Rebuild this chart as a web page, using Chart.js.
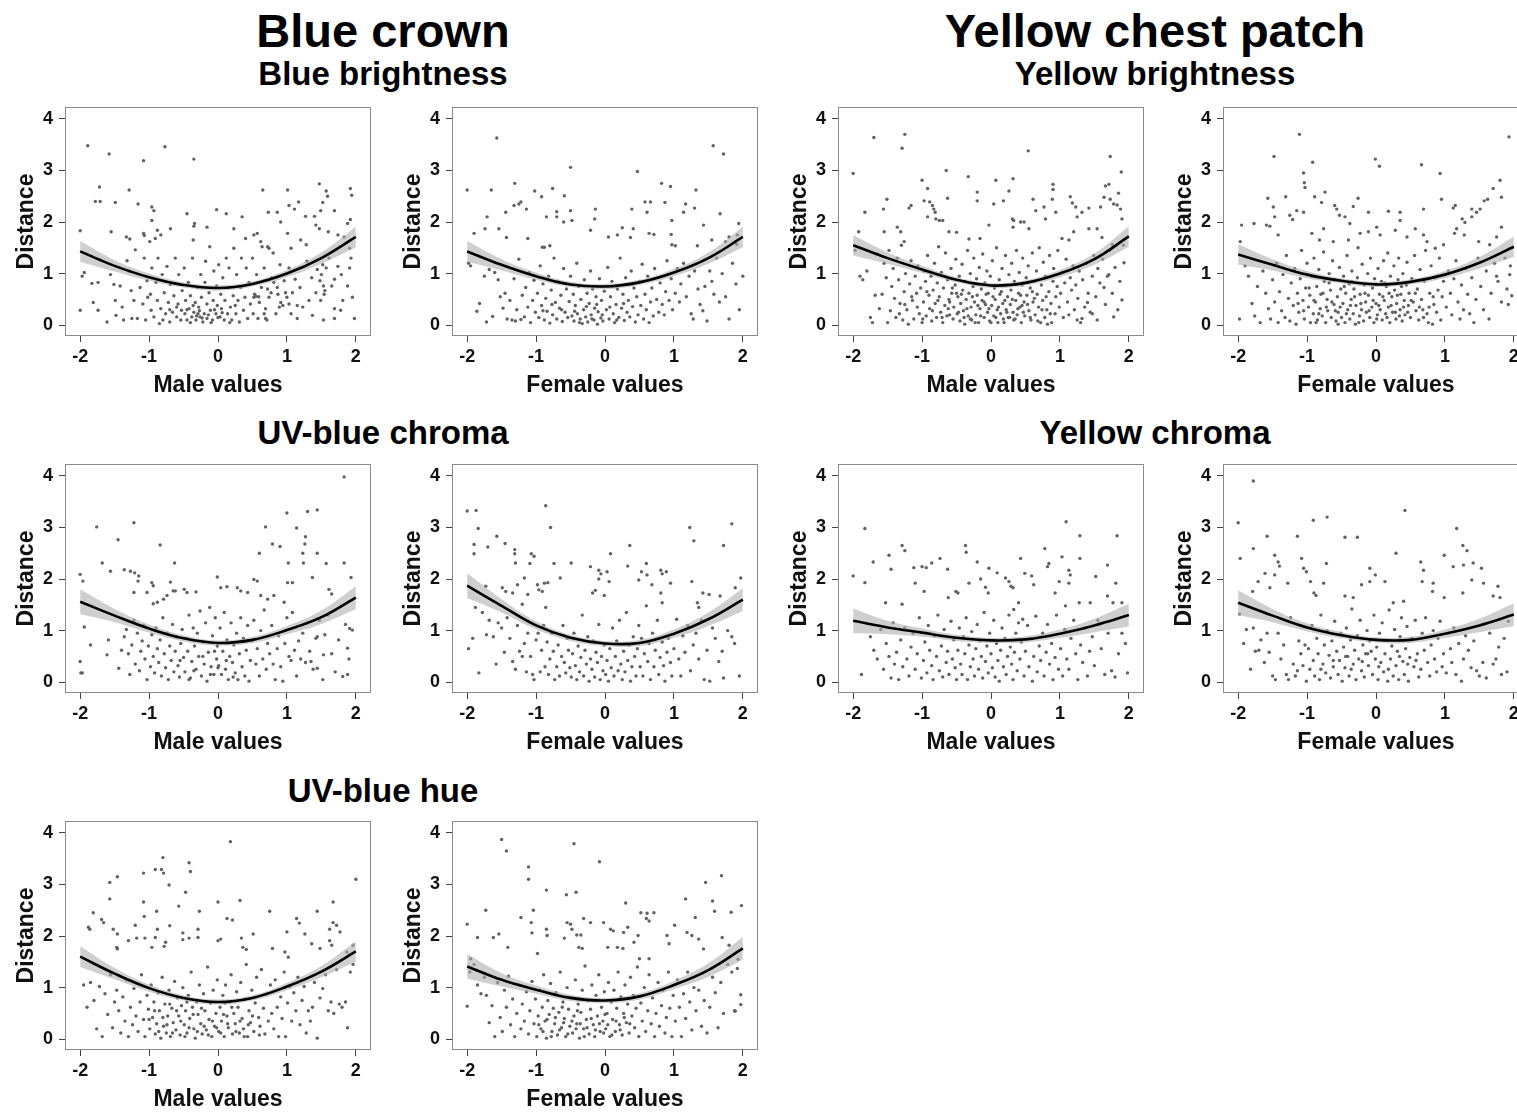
<!DOCTYPE html>
<html>
<head>
<meta charset="utf-8">
<script src="https://cdn.jsdelivr.net/npm/chart.js@4.4.1/dist/chart.umd.min.js"></script>
<style>
  html, body { margin:0; padding:0; background:#fff; }
  body { width:1517px; height:1115px; position:relative; overflow:hidden; font-family:"Liberation Sans", Arial, sans-serif; }
  .t { position:absolute; width:700px; text-align:center; font-weight:bold; color:#000; white-space:nowrap; }
  canvas { position:absolute; }
</style>
</head>
<body>
<script>
// ---------- axis ticks ----------
const xTicks = [-2, -1, 0, 1, 2];
const yTicks = [0, 1, 2, 3, 4];
const fitX = [-2, -1.5, -1, -0.5, 0, 0.5, 1, 1.5, 2];

// ---------- fitted curves ----------
const blueBrightMaleFit   = [1.43, 1.15, 0.93, 0.78, 0.72, 0.80, 1.00, 1.30, 1.71];
const blueBrightFemaleFit = [1.43, 1.17, 0.95, 0.79, 0.75, 0.83, 1.02, 1.30, 1.71];
const uvChromaMaleFit     = [1.56, 1.29, 1.04, 0.85, 0.76, 0.82, 1.01, 1.26, 1.64];
const uvChromaFemaleFit   = [1.87, 1.48, 1.10, 0.86, 0.75, 0.76, 0.94, 1.22, 1.60];
const uvHueMaleFit        = [1.60, 1.27, 0.99, 0.80, 0.72, 0.80, 1.02, 1.31, 1.70];
const uvHueFemaleFit      = [1.41, 1.15, 0.96, 0.80, 0.75, 0.83, 1.05, 1.34, 1.76];
const yellowBrightMaleFit   = [1.55, 1.30, 1.08, 0.88, 0.77, 0.82, 1.00, 1.28, 1.72];
const yellowBrightFemaleFit = [1.37, 1.17, 0.98, 0.86, 0.79, 0.84, 0.98, 1.21, 1.52];
const yellowChromaMaleFit   = [1.19, 1.06, 0.96, 0.86, 0.81, 0.83, 0.94, 1.10, 1.30];
const yellowChromaFemaleFit = [1.54, 1.29, 1.06, 0.91, 0.82, 0.82, 0.94, 1.10, 1.31];

// confidence band half-widths
const bandNarrow = [0.20, 0.11, 0.07, 0.05, 0.05, 0.05, 0.07, 0.11, 0.20];
const bandWide   = [0.24, 0.13, 0.08, 0.06, 0.05, 0.06, 0.08, 0.13, 0.22];

// ---------- scatter points ----------
const blueBrightMale = [
[-1.89,3.48],[-1.58,3.32],[-1.08,3.19],[-0.77,3.46],[-0.35,3.22],[-2.0,1.83],[-1.72,2.68],[-1.78,2.40],[-1.71,2.40],[-1.29,2.62],[-1.49,2.38],[-1.16,2.35],[-0.96,2.29],[-0.93,2.22],[-0.96,2.03],[-1.55,1.81],[-1.33,1.71],[-1.28,1.67],[-1.08,1.78],[-1.07,1.74],[-0.88,1.84],[-0.91,1.68],[-0.83,1.75],[-0.99,1.62],[-0.69,1.87],[-0.34,1.97],[-0.35,1.92],[-0.45,2.16],[-0.02,2.24],[0.12,2.16],[0.65,2.62],[1.01,2.62],[1.03,2.32],[1.11,2.25],[1.17,2.39],[1.47,2.74],[1.57,2.60],[1.59,2.50],[1.92,2.65],[1.94,2.52],[1.69,2.22],[1.49,2.22],[1.52,2.38],[1.27,2.11],[1.40,2.11],[1.42,1.94],[1.47,1.87],[1.88,1.97],[1.92,2.05],[0.73,2.19],[0.86,2.19],[0.35,2.10],[0.23,1.87],[-0.16,1.90],[0.40,1.68],[0.52,1.75],[0.62,1.62],[0.64,1.52],[0.72,1.52],[0.74,1.49],[0.57,1.78],[0.91,2.0],[1.01,1.78],[1.06,1.49],[1.2,1.65],[1.28,1.56],[1.60,1.81],[1.74,1.75],[1.83,1.71],[1.93,1.30],[1.91,1.49],[1.74,1.14],[1.52,1.17],[1.57,1.11],[1.5,0.98],[1.48,0.86],[1.53,0.76],[1.55,0.67],[1.54,0.60],[1.69,0.89],[1.81,0.48],[1.78,0.29],[1.98,0.13],[1.53,0.10],[1.69,0.32],[1.69,0.13],[1.49,0.48],[1.37,0.19],[1.15,0.38],[1.15,0.13],[0.98,0.63],[1.0,0.54],[1.03,0.41],[1.06,0.22],[0.91,0.44],[0.89,0.35],[0.86,0.73],[0.81,0.83],[0.72,0.70],[0.77,0.63],[0.67,0.22],[0.69,0.13],[0.52,0.54],[0.55,0.56],[0.59,0.55],
[-1.97,0.95],[-1.94,1.02],[-2.0,0.29],[-1.83,0.81],[-1.81,0.44],[-1.74,0.83],[-1.74,0.29],[-1.61,0.06],[-1.56,0.98],[-1.51,0.79],[-1.49,0.48],[-1.48,0.19],[-1.71,1.27],
[-1.42,0.76],[-1.39,0.35],[-1.37,0.10],[-1.32,1.25],[-1.29,1.05],[-1.26,0.67],[-1.25,0.13],[-1.22,0.48],[-1.20,1.46],[-1.17,0.13],[-1.13,0.73],[-1.09,0.41],[-1.07,1.30],[-1.05,0.10],[-1.03,0.86],[-1.02,0.54],
[-0.98,0.60],[-0.97,0.29],[-0.96,1.11],[-0.93,0.16],[-0.90,0.83],[-0.88,0.48],[-0.87,1.30],[-0.85,0.03],[-0.83,0.32],[-0.81,0.98],[-0.80,0.10],[-0.78,0.63],[-0.76,0.22],[-0.74,1.14],[-0.72,0.44],[-0.70,0.06],[-0.69,0.79],[-0.66,0.25],[-0.64,0.57],[-0.62,1.30],[-0.60,0.16],[-0.58,0.41],[-0.57,0.98],[-0.54,0.10],[-0.53,0.29],[-0.52,0.67],
[-0.49,1.11],[-0.48,0.22],[-0.47,0.48],[-0.45,0.10],[-0.43,0.83],[-0.42,0.32],[-0.40,0.57],[-0.38,0.16],[-0.37,1.30],[-0.36,1.65],[-0.35,0.25],[-0.33,0.44],[-0.32,0.10],[-0.30,0.73],[-0.29,0.22],[-0.28,0.35],[-0.26,0.16],[-0.25,0.98],[-0.24,0.54],[-0.22,0.06],[-0.20,0.22],[-0.19,0.83],[-0.18,1.24],[-0.16,0.41],[-0.16,0.13],[-0.13,0.63],[-0.12,1.52],[-0.11,0.29],[-0.08,0.10],[-0.07,0.48],[-0.06,1.05],[-0.03,0.22],[-0.02,0.76],[-0.01,0.38],
[0.01,1.17],[0.03,0.16],[0.04,0.60],[0.05,0.32],[0.07,0.92],[0.09,0.10],[0.10,0.48],[0.12,1.30],[0.14,0.22],[0.15,0.73],[0.16,1.11],[0.18,0.35],[0.20,0.10],[0.22,0.57],[0.23,1.49],[0.26,0.22],[0.27,0.98],[0.29,0.48],[0.31,0.06],[0.33,0.73],[0.34,1.30],[0.37,0.29],[0.39,0.54],[0.41,1.11],[0.43,0.13],[0.45,0.83],[0.47,0.41],
[0.50,1.30],[0.51,0.22],[0.53,0.60],[0.56,0.98],[0.58,0.13],[0.60,0.44],[0.63,0.73],[0.67,1.11],[0.69,0.32],[0.71,0.10],[0.74,0.54],[0.78,0.92],[0.80,1.40],[0.84,0.22],[0.87,0.60],[0.90,1.17],[0.94,0.38],[0.96,0.86],
[1.03,1.11],[1.08,0.63],[1.12,0.89],[1.19,0.73],[1.23,0.35],[1.29,1.24],[1.32,0.48],[1.36,0.92],[1.42,0.63],[1.44,1.08],
[1.61,1.30],[1.65,0.76],[1.79,0.98],[1.88,0.76],[1.95,0.54],[1.91,1.11],
[-0.45,0.30],[-0.40,0.05],[-0.31,0.18],[-0.27,0.28],[-0.23,0.14],[-0.14,0.20],[-0.10,0.05],[-0.05,0.30],[0.0,0.15],[-0.60,0.35],[-0.70,0.30],[-0.36,0.38],[0.06,0.24],[0.17,0.05],[0.25,0.38]
];

const blueBrightFemale = [
[-1.57,3.63],[-2.0,2.62],[-1.65,2.62],[-1.31,2.75],[-1.02,2.60],[-0.76,2.65],[-0.92,2.49],[-1.32,2.32],[-1.25,2.35],[-1.22,2.39],[-1.14,2.25],[-1.44,2.19],[-1.71,2.10],[-0.50,3.06],[-0.59,2.51],[-0.50,2.22],[-0.70,2.20],[-0.70,2.10],[-0.48,2.03],[-0.85,2.10],[0.47,2.98],[0.82,2.75],[0.95,2.69],[1.32,2.62],[1.57,3.48],[1.72,3.32],[0.58,2.39],[0.66,2.39],[0.87,2.38],[0.39,2.25],[0.61,2.19],[-0.14,2.25],[1.17,2.35],[1.30,2.27],[1.67,2.16],[1.14,2.19],[1.43,1.94],[1.94,1.97],[0.97,2.03],[0.96,1.76],[-0.21,1.84],[-0.15,2.06],[0.25,1.89],[0.41,1.87],[0.64,1.78],[0.71,1.76],[0.18,1.75],[0.05,1.71],[0.37,1.70],[-1.90,1.78],[-1.74,1.87],[-1.54,1.87],[-1.43,1.70],[-1.12,1.68],[-0.80,1.54],[-0.91,1.51],[-0.88,1.51],[-0.60,2.0],[1.02,1.54],[0.97,1.56],[1.34,1.54],[1.55,1.65],[1.75,1.62],[1.91,1.57],[2.0,0.95],[1.92,1.75],[1.80,1.71],
[-1.98,1.2],[-1.95,1.15],[-1.86,0.27],[-1.82,0.42],[-1.75,0.95],[-1.72,0.06],[-1.68,1.08],[-1.63,0.17],[-1.6,1.02],[-1.55,0.88],[-1.52,0.55],[-1.48,0.33],[-1.45,0.62],[-1.42,0.12],[-1.38,0.48],[-1.35,0.1],[-1.32,0.9],[-1.3,0.08],[-1.28,0.3],[-1.25,1.28],[-1.22,0.11],[-1.2,0.58],[-1.17,0.16],[-1.15,0.73],[-1.12,0.35],[-1.1,1.02],[-1.08,0.05],[-1.05,0.48],[-1.03,0.87],[-1.01,0.25],
[-0.98,0.62],[-0.96,0.15],[-0.94,1.15],[-0.92,0.38],[-0.9,0.8],[-0.88,0.1],[-0.86,0.52],[-0.84,0.27],[-0.82,0.95],[-0.8,0.04],[-0.78,0.68],[-0.76,0.2],[-0.74,1.3],[-0.72,0.44],[-0.7,0.12],[-0.68,0.85],[-0.66,0.33],[-0.64,0.58],[-0.62,0.07],[-0.6,1.1],[-0.58,0.25],[-0.56,0.7],[-0.54,0.15],[-0.52,0.46],[-0.5,0.95],
[-0.48,0.18],[-0.46,0.6],[-0.45,0.08],[-0.43,0.38],[-0.41,1.2],[-0.4,0.22],[-0.38,0.75],[-0.36,0.12],[-0.35,0.5],[-0.33,0.03],[-0.31,0.3],[-0.3,0.88],[-0.28,0.16],[-0.26,0.62],[-0.25,0.06],[-0.23,0.42],[-0.21,1.05],[-0.2,0.2],[-0.18,0.7],[-0.16,0.1],[-0.15,0.33],[-0.13,0.55],[-0.11,0.02],[-0.1,0.26],[-0.08,0.9],[-0.06,0.14],[-0.05,0.48],[-0.03,0.08],[-0.01,0.66],
[0.02,0.3],[0.04,1.12],[0.06,0.12],[0.08,0.55],[0.1,0.85],[0.12,0.22],[0.14,0.05],[0.16,0.4],[0.18,0.7],[0.2,0.15],[0.22,1.3],[0.24,0.33],[0.26,0.6],[0.28,0.09],[0.3,0.92],[0.32,0.25],[0.34,0.48],[0.36,0.16],[0.38,1.05],[0.4,0.36],[0.42,0.72],[0.44,0.06],[0.46,0.55],[0.48,0.2],
[0.5,0.85],[0.52,0.38],[0.54,1.18],[0.56,0.12],[0.58,0.6],[0.6,0.3],[0.62,0.95],[0.64,0.05],[0.66,0.45],[0.68,0.72],[0.7,0.18],[0.72,1.1],[0.75,0.5],[0.78,0.25],[0.8,0.82],[0.83,0.4],[0.86,0.2],[0.88,0.65],[0.9,1.25],[0.93,0.48],[0.96,0.9],[0.98,0.3],
[1.02,0.62],[1.05,1.1],[1.08,0.45],[1.1,0.8],[1.14,1.2],[1.18,0.55],[1.22,0.95],[1.25,0.22],[1.28,0.12],[1.3,1.05],[1.35,0.7],[1.38,0.4],[1.42,0.28],[1.45,0.75],[1.48,0.08],[1.52,1.05],[1.55,0.85],[1.58,0.6],[1.62,1.3],[1.66,0.45],[1.7,1.0],[1.75,0.55],[1.8,0.12],[1.85,1.2],[1.9,0.8],[1.95,0.3],
[-0.63,0.3],[-0.44,0.27],[-0.37,0.05],[-0.27,0.36],[-0.19,0.12],[-0.12,0.4],[-0.04,0.2],[0.07,0.35],[0.17,0.1],[0.27,0.42],[-0.77,0.4],[-0.9,0.28]
];

const yellowBrightMale = [
[-2.0,2.94],[-1.70,3.64],[-1.25,3.70],[-1.29,3.43],[-0.65,3.0],[-0.33,2.88],[0.07,2.81],[0.32,2.84],[0.54,3.38],[1.73,3.27],[1.89,2.97],[-1.92,1.81],[-1.83,2.19],[-1.56,2.25],[-1.51,2.44],[-1.55,1.81],[-1.36,1.90],[-1.31,1.81],[-1.19,2.27],[-1.16,2.32],[-1.26,1.62],[-1.0,2.81],[-0.92,2.65],[-0.97,2.41],[-0.89,2.39],[-0.85,2.32],[-0.83,2.25],[-0.81,2.19],[-0.80,2.06],[-0.75,2.03],[-0.70,2.03],[-0.92,2.10],[-0.63,2.46],[-0.61,1.81],[-0.50,1.80],[-0.32,1.67],[-0.20,2.58],[-0.20,2.41],[-0.16,1.68],[-0.03,1.94],[0.04,2.35],[0.18,2.41],[0.26,2.60],[0.31,2.06],[0.33,2.03],[0.32,1.90],[0.43,2.0],[0.48,2.0],[0.55,1.87],[0.65,2.22],[0.61,2.44],[0.77,2.29],[0.79,2.06],[0.89,2.44],[0.90,2.73],[0.90,2.63],[0.94,2.19],[1.15,2.49],[1.18,2.37],[1.23,2.29],[1.25,2.10],[1.32,2.19],[1.42,2.27],[1.42,1.87],[1.54,1.87],[1.59,2.29],[1.64,2.48],[1.66,2.70],[1.71,2.73],[1.73,2.44],[1.78,2.35],[1.83,2.33],[1.88,2.25],[1.85,2.56],[1.90,2.06],[1.61,1.70],[1.76,1.56],[1.13,1.65],[1.03,1.68],[1.20,1.81],[1.90,0.49],[1.78,0.16],[1.93,1.21],[1.71,0.98],[1.64,0.73],[1.54,0.10],[1.47,0.22],[1.40,0.44],[1.32,0.13],[1.25,0.10],
[-1.97,1.45],[-1.9,0.95],[-1.86,0.88],[-1.8,1.05],[-1.75,0.15],[-1.72,0.05],[-1.68,0.58],[-1.65,1.38],[-1.62,0.32],[-1.58,0.6],[-1.55,1.2],[-1.52,0.92],[-1.5,0.05],
[-1.48,1.45],[-1.46,0.28],[-1.44,0.75],[-1.42,1.1],[-1.4,0.52],[-1.38,0.15],[-1.36,1.3],[-1.34,0.88],[-1.32,0.42],[-1.3,1.55],[-1.28,0.1],[-1.26,0.65],[-1.24,1.0],[-1.22,0.3],[-1.2,0.02],[-1.18,0.8],[-1.16,1.25],[-1.14,0.48],[-1.12,0.12],[-1.1,0.95],[-1.08,0.62],[-1.06,1.15],[-1.04,0.22],[-1.02,0.72],[-1.0,0.05],
[-0.98,0.45],[-0.97,1.05],[-0.95,0.85],[-0.94,0.18],[-0.92,1.35],[-0.9,0.58],[-0.89,0.32],[-0.87,0.95],[-0.86,0.08],[-0.84,0.68],[-0.82,1.2],[-0.81,0.42],[-0.79,0.15],[-0.78,0.82],[-0.76,1.52],[-0.75,0.55],[-0.73,0.25],[-0.72,1.02],[-0.7,0.05],[-0.69,0.72],[-0.67,0.38],[-0.66,1.4],[-0.64,0.18],[-0.63,0.88],[-0.61,0.5],[-0.6,0.2],[-0.58,1.1],[-0.57,0.62],[-0.55,0.12],[-0.54,0.35],[-0.52,0.78],[-0.51,1.28],
[-0.49,0.22],[-0.48,0.55],[-0.46,0.95],[-0.45,0.08],[-0.44,0.42],[-0.42,1.18],[-0.41,0.68],[-0.4,0.28],[-0.38,0.02],[-0.37,0.85],[-0.36,0.5],[-0.34,1.45],[-0.33,0.18],[-0.32,0.62],[-0.3,1.0],[-0.29,0.35],[-0.28,0.1],[-0.26,0.75],[-0.25,1.3],[-0.24,0.45],[-0.22,0.2],[-0.21,0.9],[-0.2,0.58],[-0.18,0.05],[-0.17,1.12],[-0.16,0.32],[-0.14,0.7],[-0.13,0.48],[-0.12,1.38],[-0.1,0.15],[-0.09,0.82],[-0.08,0.4],[-0.06,1.05],[-0.05,0.25],[-0.04,0.62],[-0.02,0.08],[-0.01,0.95],
[0.01,0.38],[0.02,1.25],[0.04,0.18],[0.05,0.72],[0.06,0.5],[0.08,1.5],[0.09,0.3],[0.1,0.05],[0.12,0.88],[0.13,0.6],[0.14,0.22],[0.16,1.1],[0.17,0.42],[0.18,0.12],[0.2,0.78],[0.21,1.35],[0.22,0.3],[0.24,0.55],[0.25,0.15],[0.26,0.98],[0.28,0.4],[0.29,0.68],[0.3,1.2],[0.32,0.25],[0.33,0.1],[0.34,0.85],[0.36,0.48],[0.37,1.45],[0.38,0.2],[0.4,0.62],[0.41,1.02],[0.42,0.35],[0.44,0.05],[0.45,0.78],[0.46,1.3],[0.48,0.45],[0.49,0.18],
[0.51,0.92],[0.52,0.58],[0.54,1.15],[0.55,0.28],[0.57,0.72],[0.58,0.1],[0.6,1.4],[0.61,0.45],[0.63,0.85],[0.64,0.2],[0.66,1.05],[0.67,0.6],[0.69,0.35],[0.7,1.5],[0.72,0.05],[0.73,0.78],[0.75,0.48],[0.76,1.22],[0.78,0.15],[0.79,0.95],[0.81,0.3],[0.82,0.02],[0.84,0.65],[0.85,1.35],[0.87,0.42],[0.88,0.05],[0.9,0.85],[0.91,1.1],[0.93,0.22],[0.94,0.55],[0.96,0.75],[0.97,1.45],[0.99,0.35],
[1.01,0.62],[1.03,1.02],[1.05,0.15],[1.07,0.82],[1.09,1.28],[1.11,0.45],[1.13,0.2],[1.15,0.92],[1.17,0.68],[1.19,1.15],[1.21,0.3],[1.23,0.78],[1.26,0.52],[1.28,1.05],[1.3,0.05],[1.33,0.88],[1.36,0.35],[1.38,1.2],[1.41,0.62],[1.44,0.25],[1.47,0.95],[1.49,1.35],
[1.52,0.55],[1.55,1.1],[1.58,0.82],[1.62,1.28],[1.66,0.4],[1.69,0.95],[1.72,1.45],[1.76,0.62],[1.8,1.12],[1.84,0.3],[1.87,0.85],[1.92,1.55],
[-1.15,0.55],[-1.07,0.35],[-0.99,0.12],[-0.93,0.65],[-0.85,0.28],[-0.77,0.48],[-0.71,0.15],[-0.62,0.32],[-0.56,0.72],[-0.47,0.25],[-0.43,0.6],[-0.39,0.15],[-0.35,0.32],[-0.27,0.55],[-0.23,0.05],[-0.19,0.38],[-0.15,0.18],[-0.07,0.6],[-0.03,0.32],[0.03,0.55],[0.07,0.15],[0.11,0.35],[0.15,0.65],[0.19,0.05],[0.23,0.25],[0.27,0.15],[0.31,0.5],[0.35,0.12],[0.39,0.32],[0.43,0.58],[0.47,0.25],[0.53,0.4],[0.57,0.15],[0.63,0.52],[0.68,0.08],[0.74,0.3],[0.8,0.55],[0.86,0.22],[-1.25,0.4],[-1.33,0.22],[-0.6,0.45],[-0.5,0.62],[-0.3,0.12],[-0.1,0.45],[0.0,0.05],[0.2,0.48],[0.45,0.38],[0.6,0.65]
];

const yellowBrightFemale = [
[-1.11,3.70],[-1.48,3.27],[-0.92,3.16],[-1.05,2.95],[-1.04,2.76],[-1.03,2.67],[-0.01,3.22],[0.05,3.08],[0.66,3.11],[0.93,2.94],[1.93,3.65],[1.80,2.81],[1.70,2.65],[1.82,2.48],[-1.57,2.46],[-1.31,2.49],[-0.89,2.49],[-0.74,2.58],[-0.79,2.38],[-0.26,2.46],[-0.6,2.32],[-0.57,2.25],[-0.33,2.30],[-0.11,2.19],[0.18,2.21],[0.35,2.19],[0.69,2.25],[0.95,2.44],[1.12,2.27],[1.15,2.32],[1.39,2.25],[1.46,2.19],[1.51,2.25],[1.57,2.41],[1.62,2.44],[1.39,2.10],[1.25,2.06],[1.29,1.99],[1.17,1.87],[1.14,1.78],[1.28,1.75],[1.49,1.62],[1.65,1.56],[1.75,1.71],[1.82,1.90],[1.94,0.98],[1.97,0.57],[1.92,0.40],[1.75,0.95],[-1.95,1.94],[-1.97,1.62],[-1.77,1.97],[-1.59,1.94],[-1.54,1.92],[-1.47,2.10],[-1.42,1.75],[-1.49,2.29],[-1.25,2.13],[-1.21,2.05],[-1.15,2.22],[-1.05,2.19],[-0.93,1.78],[-0.82,1.65],[-0.76,1.87],[-0.53,2.13],[-0.45,2.10],[-0.38,1.97],[-0.23,1.78],[-0.11,1.81],[0.01,1.90],[0.06,1.75],[0.28,1.84],[0.35,2.03],[0.45,1.71],[0.57,1.87],[0.69,1.75],[0.74,1.62],[0.86,1.49],[0.98,1.56],[-0.40,1.65],[-0.62,1.62],
[-1.98,0.12],[-1.9,1.15],[-1.85,0.95],[-1.8,0.42],[-1.76,0.18],[-1.72,0.75],[-1.68,0.05],[-1.64,1.05],[-1.6,0.62],[-1.56,0.32],[-1.53,0.12],[-1.5,0.88],[-1.47,0.45],[-1.44,1.2],[-1.42,0.05],[-1.4,0.65],[-1.37,0.28],[-1.35,0.98],[-1.32,0.15],[-1.3,1.35],[-1.27,0.52],[-1.25,0.08],[-1.23,0.82],[-1.2,0.38],[-1.18,1.1],[-1.16,0.02],[-1.14,0.62],[-1.12,0.25],[-1.1,0.9],[-1.08,1.45],[-1.06,0.48],[-1.04,0.12],[-1.02,0.72],[-1.0,1.2],
[-0.98,0.35],[-0.96,0.58],[-0.95,0.05],[-0.93,0.95],[-0.91,0.22],[-0.9,1.3],[-0.88,0.45],[-0.86,0.75],[-0.85,0.1],[-0.83,1.08],[-0.81,0.32],[-0.8,0.6],[-0.78,0.18],[-0.76,1.42],[-0.75,0.85],[-0.73,0.05],[-0.71,0.5],[-0.7,0.28],[-0.68,1.0],[-0.66,0.68],[-0.65,0.15],[-0.63,1.25],[-0.61,0.4],[-0.6,0.88],[-0.58,0.08],[-0.56,0.55],[-0.55,0.25],[-0.53,1.12],[-0.51,0.7],[-0.5,0.15],
[-0.48,0.42],[-0.47,0.95],[-0.45,0.05],[-0.44,0.62],[-0.42,1.35],[-0.41,0.3],[-0.39,0.8],[-0.38,0.12],[-0.36,0.5],[-0.35,1.05],[-0.33,0.22],[-0.32,0.7],[-0.3,0.02],[-0.29,0.38],[-0.27,0.92],[-0.26,1.5],[-0.24,0.18],[-0.23,0.6],[-0.21,0.3],[-0.2,1.18],[-0.18,0.08],[-0.17,0.78],[-0.15,0.45],[-0.14,0.25],[-0.12,1.0],[-0.11,0.58],[-0.09,0.15],[-0.08,1.3],[-0.06,0.35],[-0.05,0.72],[-0.03,0.05],[-0.02,0.9],[0.0,0.42],
[0.02,0.2],[0.03,1.1],[0.05,0.6],[0.06,0.3],[0.08,0.85],[0.09,0.1],[0.11,1.25],[0.12,0.48],[0.14,0.22],[0.15,0.75],[0.17,1.4],[0.18,0.35],[0.2,0.05],[0.21,0.95],[0.23,0.55],[0.24,0.25],[0.26,1.15],[0.27,0.68],[0.29,0.12],[0.3,0.42],[0.32,0.88],[0.33,1.3],[0.35,0.3],[0.36,0.6],[0.38,0.08],[0.39,1.0],[0.41,0.48],[0.42,0.2],[0.44,0.78],[0.45,1.22],[0.47,0.38],[0.48,0.62],[0.5,0.15],
[0.52,0.9],[0.54,0.45],[0.56,1.35],[0.58,0.28],[0.6,0.7],[0.62,0.1],[0.64,1.08],[0.66,0.5],[0.68,0.3],[0.7,0.85],[0.72,1.45],[0.74,0.22],[0.76,0.05],[0.78,0.62],[0.8,1.15],[0.82,0.02],[0.84,0.4],[0.86,0.92],[0.88,0.25],[0.9,0.68],[0.92,1.3],[0.94,0.1],[0.96,0.55],[0.98,0.85],
[1.02,0.35],[1.05,1.05],[1.08,0.62],[1.1,0.2],[1.13,0.9],[1.16,1.25],[1.19,0.45],[1.22,0.12],[1.24,0.78],[1.27,0.3],[1.3,1.1],[1.33,0.6],[1.36,0.22],[1.39,0.92],[1.42,0.05],[1.45,0.5],[1.48,1.3],[1.52,0.75],[1.56,0.3],[1.6,1.05],[1.64,0.12],[1.67,0.62],[1.72,1.2],[1.77,0.85],[1.82,0.45],[1.87,1.3],[1.9,0.7],[1.95,1.15],
[-1.13,0.42],[-1.05,0.28],[-0.97,0.72],[-0.9,0.48],[-0.83,0.22],[-0.77,0.62],[-0.72,0.35],[-0.64,0.45],[-0.59,0.28],[-0.52,0.35],[-0.46,0.75],[-0.43,0.22],[-0.37,0.38],[-0.31,0.55],[-0.25,0.05],[-0.22,0.42],[-0.16,0.62],[-0.1,0.28],[-0.04,0.48],[0.01,0.12],[0.04,0.38],[0.1,0.55],[0.16,0.15],[0.19,0.62],[0.22,0.38],[0.28,0.25],[0.31,0.58],[0.34,0.18],[0.4,0.35],[0.46,0.25],[0.51,0.48],[0.57,0.62],[0.63,0.35],[0.69,0.15],[0.77,0.35],[0.83,0.55],[-0.68,0.82],[-0.35,0.85],[0.13,0.82],[0.37,0.75],[-0.87,0.05],[-0.55,0.02]
];

const uvChromaMale = [
[1.83,3.98],[-1.76,3.01],[-1.22,3.09],[-1.45,2.76],[-0.84,2.66],[-1.68,2.31],[-0.63,2.31],[-2.0,2.09],[-1.96,1.96],[-1.56,2.15],[-1.36,2.18],[-1.27,2.15],[-1.21,2.12],[-1.15,2.06],[-0.96,1.93],[-0.94,1.87],[-1.16,1.96],[-1.22,1.74],[-1.03,1.74],[-0.94,1.52],[-0.88,1.55],[-0.69,1.94],[-0.65,1.77],[-0.62,1.77],[-0.74,1.68],[-0.79,1.61],[-0.01,2.04],[0.04,1.83],[0.13,1.85],[0.33,1.77],[0.43,1.74],[0.28,1.83],[-0.49,1.80],[-0.45,1.74],[-0.32,1.75],[0.60,2.50],[0.69,3.01],[0.79,2.68],[0.90,2.63],[1.0,3.28],[1.02,2.31],[1.08,1.93],[1.01,1.93],[1.14,2.99],[1.30,3.31],[1.44,3.34],[1.23,2.50],[1.24,2.31],[1.26,2.68],[1.27,2.82],[1.44,2.50],[1.37,2.03],[1.57,2.30],[1.61,1.80],[1.65,1.71],[1.83,2.31],[1.93,2.03],[0.52,1.99],[0.57,1.96],[0.62,1.68],[0.72,1.61],[0.81,1.68],[0.96,1.55],[1.91,1.04],[1.95,1.01],[1.88,0.66],[1.81,0.11],[1.88,0.15],[1.52,0.05],[1.53,0.53],[1.44,0.88],[1.44,0.27],[1.35,0.40],[-2.0,0.40],[-1.97,0.18],[-1.99,0.18],[-1.94,1.07],[-1.85,0.72],[-1.61,0.53],[-1.59,0.82],[-1.44,0.27],
[-1.4,0.62],[-1.36,0.88],[-1.33,1.02],[-1.3,0.55],[-1.28,0.15],[-1.25,0.72],[-1.22,1.2],[-1.2,0.35],[-1.17,0.95],[-1.14,0.22],[-1.12,0.6],[-1.1,0.8],[-1.08,1.1],[-1.06,0.45],[-1.03,0.05],[-1.01,0.7],
[-0.98,0.3],[-0.96,0.92],[-0.94,0.5],[-0.92,0.18],[-0.9,1.05],[-0.88,0.65],[-0.86,0.38],[-0.84,0.82],[-0.82,0.12],[-0.8,1.25],[-0.78,0.55],[-0.76,0.28],[-0.74,0.95],[-0.72,0.05],[-0.7,0.7],[-0.68,0.42],[-0.66,1.12],[-0.64,0.2],[-0.62,0.6],[-0.6,0.88],[-0.58,0.32],[-0.56,0.1],[-0.54,0.75],[-0.52,1.02],[-0.5,0.48],
[-0.48,0.2],[-0.46,0.85],[-0.44,0.6],[-0.42,1.3],[-0.4,0.08],[-0.38,0.4],[-0.36,1.05],[-0.34,0.7],[-0.32,0.25],[-0.3,0.95],[-0.28,0.5],[-0.26,1.38],[-0.24,0.12],[-0.22,0.78],[-0.2,0.35],[-0.18,1.15],[-0.16,0.02],[-0.14,0.58],[-0.12,1.45],[-0.1,0.3],[-0.08,0.9],[-0.06,0.15],[-0.04,1.25],[-0.02,0.45],[-0.01,0.7],
[0.01,0.32],[0.03,1.05],[0.05,0.15],[0.07,0.6],[0.09,1.35],[0.11,0.25],[0.13,0.82],[0.15,0.05],[0.17,0.5],[0.19,1.15],[0.21,0.38],[0.23,0.72],[0.25,0.18],[0.27,0.95],[0.29,0.05],[0.31,0.55],[0.33,1.25],[0.35,0.3],[0.37,0.85],[0.39,0.12],[0.41,0.62],[0.43,1.1],[0.45,0.02],[0.47,0.42],[0.49,0.8],
[0.52,1.2],[0.55,0.35],[0.57,0.65],[0.6,0.12],[0.62,1.0],[0.65,0.45],[0.67,1.4],[0.7,0.25],[0.72,0.75],[0.75,0.55],[0.78,1.1],[0.8,0.35],[0.83,0.05],[0.86,0.65],[0.88,0.9],[0.91,0.3],[0.94,0.02],[0.97,0.75],
[1.0,1.25],[1.03,0.5],[1.06,0.42],[1.08,1.35],[1.11,0.62],[1.14,0.12],[1.17,0.8],[1.2,0.45],[1.23,0.95],[1.27,0.38],[1.3,1.15],[1.33,0.6],[1.38,0.25],[1.42,0.85],[1.47,1.2],[1.55,0.92],[1.6,1.3],[1.65,0.55],[1.7,0.2],[1.75,0.82],[1.85,1.12],[1.9,0.45],
[-0.55,0.42],[-0.35,0.22],[-0.22,0.5],[-0.11,0.15],[0.0,0.28],[0.12,0.42],[0.22,0.1],[-0.42,0.05],[-0.05,0.6]
];

const uvChromaFemale = [
[-2.0,3.32],[-1.87,3.33],[-1.84,2.98],[-1.90,2.67],[-1.90,2.49],[-1.57,2.83],[-1.70,2.62],[-1.45,2.69],[-1.31,2.57],[-1.31,2.49],[-1.30,2.31],[-1.07,2.49],[-1.03,2.44],[-1.09,2.30],[-0.86,3.42],[-0.79,3.0],[-0.74,2.30],[-0.49,2.31],[-0.65,2.02],[-0.88,1.92],[-0.83,1.93],[-0.96,1.79],[-0.98,1.89],[-0.91,1.76],[-0.86,1.45],[-1.17,2.02],[-1.20,1.51],[-1.49,1.83],[-1.44,1.76],[-1.34,1.73],[-1.27,1.89],[-1.12,1.70],[-1.73,1.86],[-0.21,2.24],[-0.09,2.17],[-0.06,2.10],[0.03,2.14],[0.06,1.95],[-0.09,2.0],[-0.14,1.78],[-0.01,1.68],[-0.18,1.73],[0.08,2.49],[0.36,2.65],[0.33,2.25],[0.49,1.98],[0.60,2.30],[0.53,2.14],[0.61,2.08],[0.68,1.89],[0.81,2.17],[0.83,2.10],[0.89,2.14],[0.95,1.92],[0.81,1.73],[0.83,1.54],[1.23,3.0],[1.29,2.74],[1.84,3.07],[1.72,2.65],[1.97,2.02],[1.89,1.83],[1.26,1.95],[1.42,1.73],[1.34,1.54],[1.36,1.45],[1.51,1.70],[1.67,1.67],
[-1.98,0.65],[-1.92,0.85],[-1.88,1.45],[-1.83,0.18],[-1.78,1.35],[-1.72,0.92],[-1.68,1.2],[-1.62,0.88],[-1.58,0.35],[-1.55,1.15],[-1.5,1.05],[-1.46,0.58],[-1.42,1.25],[-1.38,0.85],[-1.34,0.4],[-1.3,0.25],[-1.27,1.1],[-1.24,0.6],[-1.2,0.5],[-1.17,0.75],[-1.14,0.2],[-1.12,0.95],[-1.08,0.5],[-1.05,0.15],[-1.03,0.05],[-1.0,0.82],
[-0.97,0.95],[-0.94,0.2],[-0.92,0.62],[-0.89,1.1],[-0.87,0.3],[-0.84,0.78],[-0.82,0.15],[-0.8,0.45],[-0.77,0.95],[-0.75,0.6],[-0.73,0.05],[-0.7,0.3],[-0.68,0.72],[-0.66,0.12],[-0.63,0.5],[-0.61,1.1],[-0.59,0.38],[-0.57,0.18],[-0.55,0.85],[-0.53,0.62],[-0.51,0.28],
[-0.49,0.1],[-0.47,0.55],[-0.45,0.95],[-0.43,0.32],[-0.41,0.05],[-0.39,0.7],[-0.37,0.2],[-0.35,0.48],[-0.33,1.3],[-0.31,0.12],[-0.29,0.62],[-0.27,0.35],[-0.25,0.88],[-0.23,0.02],[-0.21,0.45],[-0.19,0.25],[-0.17,0.8],[-0.15,0.1],[-0.13,0.58],[-0.11,0.38],[-0.09,1.12],[-0.07,0.05],[-0.05,0.5],[-0.03,0.22],[-0.01,0.72],
[0.01,0.15],[0.03,0.42],[0.05,0.02],[0.07,0.65],[0.09,0.28],[0.11,1.05],[0.13,0.12],[0.15,0.5],[0.17,0.8],[0.19,0.22],[0.21,1.2],[0.23,0.35],[0.25,0.05],[0.27,0.6],[0.29,0.2],[0.31,1.35],[0.33,0.42],[0.35,0.72],[0.37,0.02],[0.39,0.3],[0.41,0.88],[0.43,0.5],[0.45,0.12],[0.47,0.65],[0.49,1.1],
[0.51,0.3],[0.53,0.85],[0.55,0.12],[0.57,0.55],[0.6,1.48],[0.62,0.4],[0.64,0.75],[0.66,0.05],[0.69,0.95],[0.71,0.3],[0.73,0.62],[0.76,1.2],[0.78,0.15],[0.8,0.48],[0.83,0.78],[0.85,0.32],[0.87,0.02],[0.9,0.58],[0.92,0.85],[0.95,0.38],[0.97,0.12],
[1.0,0.65],[1.04,1.22],[1.07,0.45],[1.1,0.12],[1.13,0.9],[1.16,0.58],[1.2,1.1],[1.24,0.22],[1.28,0.72],[1.32,0.95],[1.36,0.45],[1.4,1.2],[1.44,0.05],[1.48,0.62],[1.52,0.02],[1.56,1.05],[1.6,0.85],[1.65,0.4],[1.7,0.6],[1.72,0.08],[1.78,1.0],[1.84,0.88],[1.88,0.75],[1.95,0.12]
];

const yellowChromaMale = [
[-1.83,2.98],[-2.0,2.06],[-1.83,1.93],[-1.71,2.33],[-1.29,2.65],[-1.25,2.55],[-1.48,2.46],[-1.45,2.19],[-1.12,2.22],[-1.0,2.24],[-0.94,2.22],[-0.86,2.31],[-0.74,2.40],[-1.10,1.92],[-0.97,1.76],[-1.29,1.51],[-1.53,1.54],[-0.63,2.19],[-0.62,1.64],[-0.37,2.65],[-0.36,2.52],[-0.32,1.92],[-0.51,1.76],[-0.48,1.73],[-0.20,2.33],[-0.15,2.0],[-0.08,1.84],[-0.04,1.73],[0.09,2.12],[0.21,2.02],[0.26,1.95],[0.29,1.86],[0.32,1.83],[-0.03,2.21],[0.43,2.40],[0.49,2.11],[0.59,2.06],[0.62,1.89],[0.78,2.59],[0.82,2.24],[0.84,2.30],[1.03,2.43],[1.09,3.11],[1.13,2.17],[1.15,2.08],[0.99,1.95],[1.13,1.92],[0.93,1.73],[1.29,2.84],[1.29,2.40],[1.44,1.54],[1.52,2.05],[1.69,2.27],[1.83,2.84],[1.81,1.92],[1.69,1.67],[1.77,1.54],[1.90,1.54],[1.28,1.54],[1.08,1.48],[0.33,1.41],[0.40,1.54],
[-1.88,0.15],[-1.75,0.88],[-1.7,0.62],[-1.65,0.45],[-1.6,1.02],[-1.56,0.25],[-1.52,0.75],[-1.48,0.5],[-1.45,0.08],[-1.42,1.15],[-1.4,0.35],[-1.37,0.58],[-1.34,0.05],[-1.31,0.82],[-1.28,0.3],[-1.25,1.05],[-1.22,0.45],[-1.19,0.12],[-1.16,0.68],[-1.13,0.95],[-1.1,0.25],[-1.07,0.55],[-1.04,1.25],[-1.01,0.08],
[-0.98,0.42],[-0.96,0.78],[-0.93,0.18],[-0.91,1.1],[-0.89,0.62],[-0.86,0.32],[-0.84,0.05],[-0.82,0.9],[-0.79,0.5],[-0.77,1.3],[-0.75,0.22],[-0.72,0.7],[-0.7,0.1],[-0.68,1.02],[-0.65,0.38],[-0.63,0.6],[-0.61,0.15],[-0.58,1.18],[-0.56,0.45],[-0.54,0.82],[-0.52,0.28],[-0.5,0.05],
[-0.48,0.62],[-0.46,1.05],[-0.44,0.35],[-0.42,0.15],[-0.4,0.88],[-0.38,0.55],[-0.36,1.25],[-0.34,0.05],[-0.32,0.72],[-0.3,0.3],[-0.28,0.98],[-0.26,0.45],[-0.24,0.12],[-0.22,0.65],[-0.2,1.12],[-0.18,0.25],[-0.16,0.8],[-0.14,0.5],[-0.12,0.08],[-0.1,1.35],[-0.08,0.4],[-0.06,0.7],[-0.04,0.18],[-0.02,0.95],
[0.0,0.55],[0.02,0.28],[0.04,1.2],[0.06,0.1],[0.08,0.75],[0.1,0.42],[0.12,0.02],[0.14,0.62],[0.16,1.05],[0.18,0.3],[0.2,0.85],[0.22,0.15],[0.24,0.5],[0.26,1.3],[0.28,0.68],[0.3,0.35],[0.32,0.05],[0.34,0.58],[0.36,0.95],[0.38,0.22],[0.4,1.15],[0.42,0.45],[0.44,0.78],[0.46,1.22],[0.48,0.12],
[0.5,0.6],[0.53,1.1],[0.55,0.3],[0.58,0.85],[0.6,0.02],[0.62,0.5],[0.65,1.28],[0.67,0.2],[0.7,0.7],[0.72,0.42],[0.75,0.95],[0.77,0.12],[0.8,0.58],[0.82,1.12],[0.85,0.35],[0.88,0.75],[0.9,0.05],[0.93,0.48],[0.95,1.3],[0.98,0.25],
[1.01,0.65],[1.04,0.12],[1.07,1.02],[1.1,0.45],[1.13,0.25],[1.16,0.85],[1.2,1.2],[1.23,0.55],[1.26,0.05],[1.3,0.72],[1.33,0.38],[1.36,1.05],[1.4,0.12],[1.43,0.6],[1.47,0.88],[1.5,0.32],[1.55,1.2],[1.6,0.65],[1.65,0.15],[1.7,0.95],[1.75,0.22],[1.8,0.1],[1.85,0.55],[1.9,0.95],[1.95,0.75],[1.98,0.18]
];

const yellowChromaFemale = [
[-1.78,3.90],[-2.0,3.09],[-1.97,2.40],[-1.78,2.59],[-1.58,2.83],[-0.91,3.14],[-0.71,3.20],[-1.14,2.83],[-0.45,2.81],[-0.27,2.81],[0.29,2.50],[0.42,3.33],[1.17,2.98],[0.99,2.46],[1.26,2.65],[1.32,2.55],[1.27,2.27],[1.12,2.24],[1.41,2.31],[1.53,2.21],[1.39,1.98],[1.56,1.92],[1.77,1.86],[1.70,1.67],[1.80,1.64],[1.26,1.73],[-1.47,2.46],[-1.42,2.33],[-1.40,2.25],[-1.47,2.08],[-1.61,2.11],[-1.71,1.95],[-1.28,1.92],[-1.79,1.76],[-1.54,1.83],[-1.08,2.40],[-1.05,2.21],[-1.01,2.14],[-0.95,1.95],[-0.72,2.30],[-0.76,1.92],[-0.90,1.73],[-0.87,1.68],[-0.09,2.21],[-0.01,2.08],[0.13,1.95],[-0.21,1.89],[-0.09,1.95],[0.65,2.33],[0.69,2.17],[0.67,1.95],[0.83,1.92],[0.82,1.76],[0.99,1.64],[0.25,1.54],[0.40,1.57],[-0.45,1.67],[-0.33,1.64],
[-1.98,1.32],[-1.92,0.75],[-1.88,1.02],[-1.82,0.25],[-1.78,1.05],[-1.75,0.6],[-1.7,0.62],[-1.67,0.82],[-1.62,0.38],[-1.58,0.95],[-1.55,0.58],[-1.5,0.12],[-1.46,0.05],[-1.42,0.95],[-1.38,0.45],[-1.34,0.72],[-1.3,0.15],[-1.27,0.05],[-1.24,1.25],[-1.2,0.35],[-1.17,0.12],[-1.14,0.22],[-1.12,0.8],[-1.09,0.55],[-1.06,0.32],[-1.03,0.72],[-1.01,0.02],
[-0.98,0.65],[-0.96,0.25],[-0.93,1.1],[-0.91,0.42],[-0.89,0.12],[-0.86,0.85],[-0.84,0.55],[-0.82,0.05],[-0.8,1.3],[-0.77,0.35],[-0.75,0.72],[-0.73,0.18],[-0.71,1.0],[-0.68,0.52],[-0.66,0.08],[-0.64,0.8],[-0.62,0.3],[-0.6,1.18],[-0.57,0.6],[-0.55,0.15],[-0.53,0.42],[-0.51,0.95],
[-0.49,0.02],[-0.47,0.68],[-0.45,0.28],[-0.43,1.05],[-0.41,0.5],[-0.39,0.12],[-0.37,0.82],[-0.35,1.42],[-0.33,0.35],[-0.31,0.62],[-0.29,0.05],[-0.27,0.9],[-0.25,0.45],[-0.23,1.2],[-0.21,0.22],[-0.19,0.72],[-0.17,0.1],[-0.15,0.55],[-0.13,1.0],[-0.11,0.32],[-0.09,0.8],[-0.07,0.6],[-0.05,0.15],[-0.03,1.3],[-0.01,0.45],
[0.01,0.68],[0.03,0.05],[0.05,0.95],[0.07,0.38],[0.09,1.15],[0.11,0.2],[0.13,0.55],[0.15,0.82],[0.17,0.02],[0.19,1.4],[0.21,0.45],[0.23,0.7],[0.25,0.12],[0.27,1.02],[0.29,0.32],[0.31,0.6],[0.33,0.05],[0.35,0.88],[0.37,1.25],[0.39,0.4],[0.41,0.15],[0.43,0.65],[0.45,1.08],[0.47,0.02],[0.49,0.48],
[0.52,0.85],[0.55,0.3],[0.57,1.2],[0.6,0.55],[0.62,0.1],[0.65,0.25],[0.67,0.95],[0.7,0.62],[0.72,1.25],[0.75,0.38],[0.78,0.12],[0.8,0.72],[0.83,1.0],[0.85,0.45],[0.88,0.2],[0.9,0.85],[0.93,1.18],[0.96,0.3],[0.98,0.55],
[1.02,0.18],[1.05,0.95],[1.08,0.65],[1.1,0.38],[1.13,1.05],[1.16,0.15],[1.2,0.75],[1.24,0.02],[1.27,0.45],[1.3,0.9],[1.34,0.62],[1.38,0.28],[1.42,0.8],[1.46,0.22],[1.5,0.12],[1.55,0.38],[1.6,0.08],[1.65,0.95],[1.7,0.35],[1.74,0.45],[1.78,0.68],[1.82,0.15],[1.86,0.85],[1.9,0.2],[1.92,1.18],
[-0.62,0.42],[-0.44,0.5],[-0.36,0.25],[-0.2,0.4],[-0.12,0.55],[0.04,0.3],[0.18,0.25],[0.34,0.5],[0.46,0.35],[0.58,0.42],[-0.8,0.25]
];

const uvHueMale = [
[0.18,3.83],[-0.80,3.52],[-0.91,3.29],[-0.82,3.29],[-0.79,3.22],[-1.08,3.22],[-0.42,3.42],[-0.40,3.25],[-0.71,2.99],[-1.57,3.04],[-1.46,3.15],[-1.57,2.72],[-1.81,2.45],[-1.69,2.32],[-1.66,2.26],[-1.88,2.17],[-1.86,2.13],[-1.52,2.13],[-1.46,2.04],[-1.30,1.91],[-1.47,1.78],[-1.46,1.75],[-1.08,2.66],[-1.07,2.38],[-1.20,2.21],[-1.06,1.96],[-1.18,1.96],[-0.89,2.48],[-0.88,2.13],[-0.91,1.97],[-0.96,1.78],[-0.70,2.20],[-0.76,1.88],[-0.78,1.80],[-0.47,2.85],[-0.57,2.58],[-0.51,2.06],[-0.51,1.93],[-0.42,1.96],[-0.29,2.13],[-0.29,1.97],[-0.27,2.48],[0.0,2.66],[0.0,1.91],[0.04,1.94],[0.13,2.34],[0.21,2.31],[0.32,2.69],[0.34,1.96],[0.36,1.78],[0.41,1.74],[0.51,2.04],[0.75,2.48],[0.79,1.76],[1.0,2.08],[0.97,1.69],[1.02,1.59],[1.14,2.34],[1.18,2.25],[1.26,2.04],[1.36,1.85],[1.44,2.48],[1.48,1.76],[1.62,1.91],[1.65,1.82],[1.62,2.13],[1.67,2.26],[1.72,2.21],[1.77,2.08],[1.67,2.66],[2.0,3.10],[1.96,1.82],[1.87,1.69],
[-1.95,1.05],[-1.9,0.62],[-1.85,1.1],[-1.8,0.75],[-1.76,0.2],[-1.72,1.02],[-1.68,0.05],[-1.64,0.88],[-1.6,0.48],[-1.56,1.25],[-1.53,0.22],[-1.5,0.72],[-1.47,0.95],[-1.44,0.55],[-1.41,0.12],[-1.38,0.82],[-1.35,0.35],[-1.33,1.15],[-1.3,0.05],[-1.27,0.62],[-1.24,0.28],[-1.22,0.98],[-1.19,0.45],[-1.16,0.15],[-1.13,0.72],[-1.11,1.25],[-1.08,0.38],[-1.06,0.05],[-1.03,0.85],[-1.01,0.58],
[-0.99,0.2],[-0.97,1.05],[-0.95,0.42],[-0.93,0.72],[-0.91,0.1],[-0.89,0.3],[-0.87,0.9],[-0.85,0.55],[-0.83,0.02],[-0.81,1.2],[-0.79,0.25],[-0.77,0.68],[-0.75,0.12],[-0.73,0.45],[-0.71,0.95],[-0.69,0.05],[-0.67,0.6],[-0.65,0.32],[-0.63,1.12],[-0.61,0.18],[-0.59,0.8],[-0.57,0.45],[-0.55,0.08],[-0.53,0.65],[-0.51,1.0],
[-0.49,0.28],[-0.47,0.55],[-0.45,0.12],[-0.43,0.85],[-0.41,0.4],[-0.39,1.3],[-0.37,0.62],[-0.35,0.2],[-0.33,0.02],[-0.31,0.72],[-0.29,0.48],[-0.27,1.05],[-0.25,0.3],[-0.23,0.1],[-0.21,0.88],[-0.19,0.55],[-0.17,0.18],[-0.15,1.4],[-0.13,0.38],[-0.11,0.7],[-0.09,0.05],[-0.07,0.95],[-0.05,0.25],[-0.03,0.5],[-0.01,1.15],
[0.01,0.15],[0.03,0.62],[0.05,0.35],[0.07,0.85],[0.09,0.05],[0.11,1.05],[0.13,0.45],[0.15,0.22],[0.17,0.72],[0.19,1.25],[0.21,0.1],[0.23,0.5],[0.25,0.3],[0.27,0.92],[0.29,0.62],[0.31,0.12],[0.33,1.1],[0.35,0.4],[0.37,0.2],[0.39,0.78],[0.41,1.45],[0.43,0.05],[0.45,0.55],[0.47,0.32],[0.49,0.95],
[0.52,0.15],[0.54,0.7],[0.56,1.2],[0.59,0.42],[0.61,0.25],[0.63,1.35],[0.66,0.6],[0.68,0.1],[0.71,0.88],[0.73,0.35],[0.76,1.05],[0.78,0.5],[0.81,0.2],[0.83,1.15],[0.86,0.62],[0.88,0.05],[0.91,0.82],[0.93,0.4],[0.96,1.3],[0.98,0.05],
[1.01,0.7],[1.04,1.02],[1.07,0.35],[1.1,0.9],[1.13,0.55],[1.16,1.2],[1.19,0.28],[1.22,0.75],[1.25,1.02],[1.28,0.12],[1.31,0.55],[1.34,0.35],[1.37,0.62],[1.4,1.1],[1.44,0.02],[1.48,0.8],[1.52,0.98],[1.56,1.25],[1.6,0.55],[1.64,0.72],[1.68,0.5],[1.72,1.35],[1.76,0.68],[1.8,0.62],[1.85,0.72],[1.88,0.22],[1.92,1.3],[1.96,1.45],
[-1.0,0.38],[-0.92,0.55],[-0.86,0.15],[-0.8,0.42],[-0.74,0.28],[-0.66,0.12],[-0.6,0.55],[-0.54,0.35],[-0.48,0.05],[-0.42,0.22],[-0.36,0.48],[-0.3,0.15],[-0.24,0.6],[-0.2,0.25],[-0.14,0.08],[-0.08,0.35],[-0.02,0.22],[0.04,0.12],[0.08,0.48],[0.14,0.3],[0.2,0.62],[0.26,0.15],[0.32,0.35],[0.38,0.05],[0.44,0.28],[0.5,0.45],[-0.7,0.68],[-0.45,0.72],[0.1,0.7],[0.6,0.08]
];

const uvHueFemale = [
[-1.50,3.87],[-1.43,3.65],[-0.45,3.79],[-0.08,3.44],[-1.11,3.34],[-1.11,3.10],[-0.85,2.89],[-0.56,2.80],[-0.42,2.85],[-2.0,2.23],[-1.73,2.50],[-1.85,1.97],[-1.62,1.97],[-1.54,2.04],[-1.41,1.78],[-1.22,2.36],[-1.04,2.50],[-1.07,2.26],[-1.06,2.06],[-0.98,1.66],[-0.85,2.13],[-0.84,2.01],[-0.55,2.26],[-0.50,2.23],[-0.48,2.13],[-0.59,1.96],[-0.31,2.34],[-0.21,2.26],[-0.41,2.02],[-0.35,2.02],[-0.38,1.78],[-0.33,1.76],[-0.02,2.26],[0.04,1.78],[0.08,2.13],[0.12,2.10],[0.27,2.07],[0.30,2.64],[0.33,2.17],[0.18,1.78],[0.26,1.76],[0.42,1.88],[0.48,2.01],[0.52,2.45],[0.61,2.44],[0.60,2.34],[0.64,2.29],[0.71,2.45],[0.50,1.56],[0.64,1.56],[0.90,2.01],[0.93,1.85],[1.01,2.21],[1.17,2.72],[1.19,2.07],[1.26,2.01],[1.31,2.36],[1.36,1.94],[1.43,1.75],[1.46,3.04],[1.56,2.68],[1.59,2.48],[1.69,3.17],[1.70,1.97],[1.80,1.82],[1.83,2.46],[1.98,2.59],[1.92,1.37],[1.97,0.86],[1.97,0.67],[1.89,0.54],[-2.0,0.64],[-1.95,1.56],
[-1.96,1.3],[-1.9,1.45],[-1.85,1.05],[-1.8,0.88],[-1.75,1.2],[-1.72,0.85],[-1.68,0.32],[-1.64,0.65],[-1.6,0.05],[-1.56,1.1],[-1.52,0.42],[-1.49,0.15],[-1.46,0.95],[-1.43,0.62],[-1.4,1.22],[-1.37,0.28],[-1.34,0.78],[-1.31,0.05],[-1.28,0.5],[-1.25,1.05],[-1.22,0.2],[-1.2,0.68],[-1.17,0.35],[-1.14,0.92],[-1.11,0.1],[-1.09,0.55],[-1.06,1.12],[-1.03,0.3],[-1.01,0.78],
[-0.99,0.05],[-0.97,0.45],[-0.95,0.95],[-0.93,0.2],[-0.91,0.62],[-0.89,1.25],[-0.87,0.35],[-0.85,0.02],[-0.83,0.75],[-0.81,0.48],[-0.79,1.08],[-0.77,0.15],[-0.75,0.6],[-0.73,0.3],[-0.71,0.9],[-0.69,0.08],[-0.67,0.52],[-0.65,1.3],[-0.63,0.22],[-0.61,0.72],[-0.59,0.4],[-0.57,0.05],[-0.55,1.0],[-0.53,0.58],[-0.51,0.25],
[-0.49,0.8],[-0.47,0.12],[-0.45,0.45],[-0.43,1.15],[-0.41,0.3],[-0.39,0.68],[-0.37,0.02],[-0.35,0.52],[-0.33,0.95],[-0.31,0.2],[-0.29,1.42],[-0.27,0.38],[-0.25,0.75],[-0.23,0.1],[-0.21,0.58],[-0.19,1.05],[-0.17,0.28],[-0.15,0.05],[-0.13,0.85],[-0.11,0.45],[-0.09,1.25],[-0.07,0.15],[-0.05,0.62],[-0.03,0.35],[-0.01,0.92],
[0.01,0.2],[0.03,0.5],[0.05,1.1],[0.07,0.05],[0.09,0.72],[0.11,0.38],[0.13,0.95],[0.15,0.15],[0.17,0.6],[0.19,1.3],[0.21,0.28],[0.23,0.82],[0.25,0.08],[0.27,0.5],[0.29,1.05],[0.31,0.32],[0.33,0.68],[0.35,0.12],[0.37,1.2],[0.39,0.45],[0.41,0.85],[0.43,0.22],[0.45,0.6],[0.47,1.4],[0.49,0.05],
[0.52,0.7],[0.54,0.35],[0.57,1.0],[0.59,0.15],[0.62,0.55],[0.64,1.25],[0.67,0.3],[0.69,0.8],[0.72,0.05],[0.74,0.5],[0.77,1.1],[0.79,0.25],[0.82,0.65],[0.84,0.95],[0.87,0.12],[0.89,0.42],[0.92,1.3],[0.94,0.6],[0.97,0.05],[0.99,0.85],
[1.02,0.35],[1.05,1.15],[1.08,0.62],[1.11,0.05],[1.14,0.88],[1.17,0.4],[1.2,1.3],[1.23,0.72],[1.26,0.18],[1.29,1.0],[1.32,0.55],[1.36,0.95],[1.4,0.25],[1.44,0.75],[1.48,0.12],[1.52,0.62],[1.56,1.2],[1.6,0.9],[1.64,0.22],[1.68,1.1],[1.72,0.5],[1.78,1.45],[1.84,1.3],[1.88,0.55],[1.93,1.55],
[-0.96,0.28],[-0.9,0.15],[-0.84,0.38],[-0.78,0.05],[-0.72,0.42],[-0.66,0.18],[-0.6,0.32],[-0.54,0.1],[-0.48,0.35],[-0.42,0.2],[-0.36,0.3],[-0.3,0.05],[-0.26,0.22],[-0.2,0.4],[-0.14,0.18],[-0.08,0.3],[-0.02,0.12],[0.04,0.28],[0.1,0.08],[0.16,0.35],[0.22,0.18],[0.28,0.42],[0.36,0.3],[-0.62,0.62],[-0.4,0.55],[0.0,0.48]
];

// ---------- layout ----------
const FONT = "'Liberation Sans', Arial, Helvetica, sans-serif";
Chart.defaults.font.family = FONT;

const titles = [
  {text:'Blue crown', cx:383, top:7, size:47},
  {text:'Blue brightness', cx:383, top:57, size:33},
  {text:'UV-blue chroma', cx:383, top:416, size:33},
  {text:'UV-blue hue', cx:383, top:774, size:33},
  {text:'Yellow chest patch', cx:1155, top:7, size:47},
  {text:'Yellow brightness', cx:1155, top:57, size:33},
  {text:'Yellow chroma', cx:1155, top:416, size:33}
];
titles.forEach(t => {
  const d = document.createElement('div');
  d.className = 't';
  d.textContent = t.text;
  d.style.left = (t.cx - 350) + 'px';
  d.style.top = t.top + 'px';
  d.style.fontSize = t.size + 'px';
  d.style.lineHeight = t.size + 'px';
  document.body.appendChild(d);
});

const colLeft = [65, 452, 838, 1223];
const rowTop = [103, 460, 817];

const panels = [
  {pts: blueBrightMale, fit: blueBrightMaleFit, band: bandNarrow, xl: 'Male values', c: 0, r: 0},
  {pts: blueBrightFemale, fit: blueBrightFemaleFit, band: bandNarrow, xl: 'Female values', c: 1, r: 0},
  {pts: uvChromaMale, fit: uvChromaMaleFit, band: bandWide, xl: 'Male values', c: 0, r: 1},
  {pts: uvChromaFemale, fit: uvChromaFemaleFit, band: bandWide, xl: 'Female values', c: 1, r: 1},
  {pts: uvHueMale, fit: uvHueMaleFit, band: bandNarrow, xl: 'Male values', c: 0, r: 2},
  {pts: uvHueFemale, fit: uvHueFemaleFit, band: bandWide, xl: 'Female values', c: 1, r: 2},
  {pts: yellowBrightMale, fit: yellowBrightMaleFit, band: bandNarrow, xl: 'Male values', c: 2, r: 0},
  {pts: yellowBrightFemale, fit: yellowBrightFemaleFit, band: bandNarrow, xl: 'Female values', c: 3, r: 0},
  {pts: yellowChromaMale, fit: yellowChromaMaleFit, band: bandWide, xl: 'Male values', c: 2, r: 1},
  {pts: yellowChromaFemale, fit: yellowChromaFemaleFit, band: bandWide, xl: 'Female values', c: 3, r: 1}
];

const boxPlugin = {
  id: 'panelBox',
  afterDraw(chart) {
    const {ctx, chartArea: a} = chart;
    ctx.save();
    ctx.strokeStyle = '#8a8a8a';
    ctx.lineWidth = 1;
    ctx.strokeRect(Math.round(a.left) + 0.5, Math.round(a.top) + 0.5, Math.round(a.width) - 1, Math.round(a.height) - 1);
    ctx.restore();
  }
};

const AXW = 65, AXH = 63, PW = 306, PH = 233, PADR = 4;

panels.forEach(p => {
  const cv = document.createElement('canvas');
  cv.width = AXW + PW + PADR;
  cv.height = PH + AXH;
  cv.style.left = (colLeft[p.c] - AXW) + 'px';
  cv.style.top = rowTop[p.r] + 'px';
  document.body.appendChild(cv);

  const upper = fitX.map((x, i) => ({x, y: p.fit[i] + p.band[i]}));
  const lower = fitX.map((x, i) => ({x, y: p.fit[i] - p.band[i]}));
  const line = fitX.map((x, i) => ({x, y: p.fit[i]}));

  new Chart(cv, {
    type: 'scatter',
    data: {
      datasets: [
        {data: p.pts.map(([x, y]) => ({x, y})), pointRadius: 1.7, pointBackgroundColor: '#616161', pointBorderWidth: 0, pointBorderColor: 'transparent', order: 3},
        {data: upper, showLine: true, borderWidth: 0, borderColor: 'transparent', pointRadius: 0, tension: 0.4, fill: '+1', backgroundColor: 'rgba(175,175,175,0.6)', order: 2},
        {data: lower, showLine: true, borderWidth: 0, borderColor: 'transparent', pointRadius: 0, tension: 0.4, fill: false, order: 2},
        {data: line, showLine: true, borderWidth: 2.6, borderColor: '#000', pointRadius: 0, tension: 0.4, fill: false, order: 1}
      ]
    },
    options: {
      responsive: false,
      animation: false,
      devicePixelRatio: 1,
      layout: {padding: {top: 0, right: PADR, bottom: 0, left: 0}},
      plugins: {legend: {display: false}, tooltip: {enabled: false}},
      scales: {
        x: {
          type: 'linear', min: -2.22, max: 2.22,
          afterBuildTicks: s => { s.ticks = xTicks.map(v => ({value: v})); },
          afterFit: s => { s.height = AXH; s.paddingLeft = 0; s.paddingRight = 0; },
          ticks: {font: {size: 18, weight: 'bold'}, color: '#111', padding: 4, maxRotation: 0, autoSkip: false, callback: v => String(v)},
          grid: {display: true, drawOnChartArea: false, drawTicks: true, tickLength: 6, tickColor: '#444', lineWidth: 1},
          border: {display: false},
          title: {display: true, text: p.xl, font: {size: 23, weight: 'bold'}, color: '#111', padding: {top: 0, bottom: 0}}
        },
        y: {
          type: 'linear', min: -0.21, max: 4.23,
          afterBuildTicks: s => { s.ticks = yTicks.map(v => ({value: v})); },
          afterFit: s => { s.width = AXW; s.paddingTop = 0; s.paddingBottom = 0; },
          ticks: {font: {size: 18, weight: 'bold'}, color: '#111', padding: 6, autoSkip: false, callback: v => String(v)},
          grid: {display: true, drawOnChartArea: false, drawTicks: true, tickLength: 6, tickColor: '#444', lineWidth: 1},
          border: {display: false},
          title: {display: true, text: 'Distance', font: {size: 23, weight: 'bold'}, color: '#111', padding: {top: 13, bottom: 0}}
        }
      }
    },
    plugins: [boxPlugin]
  });
});
</script>
</body>
</html>
